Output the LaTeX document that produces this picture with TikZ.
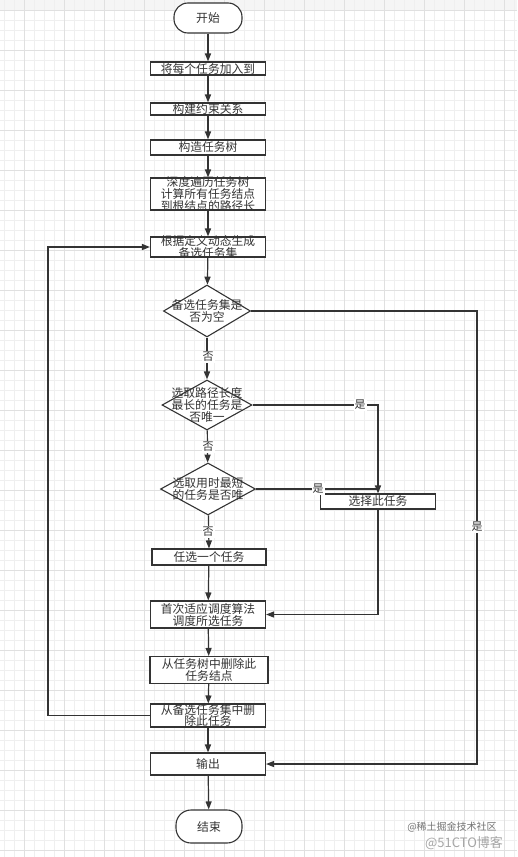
\documentclass[tikz,border=0pt]{standalone}
\usepackage{fontspec}
\newfontfamily\cjk{Noto Sans CJK SC}
\usetikzlibrary{arrows.meta,shapes.geometric}
\definecolor{ink}{HTML}{333333}
\definecolor{gridminor}{HTML}{EFEFEF}
\definecolor{gridmajor}{HTML}{E0E0E0}
\tikzset{
  boxshape/.style={draw=ink,line width=1.1pt,fill=white,inner sep=0pt,rectangle},
  termshape/.style={draw=ink,line width=1.1pt,fill=white,inner sep=0pt,rectangle,rounded corners=14pt},
  decshape/.style={draw=ink,line width=1.1pt,fill=white,inner sep=0pt,diamond},
  txt/.style={inner sep=0pt,align=center,text=ink,font=\cjk\fontsize{11.8}{10.8}\selectfont},
  yn/.style={inner sep=1pt,fill=white,text=ink,font=\cjk\fontsize{11}{11}\selectfont},
  conn/.style={draw=ink,line width=1.2pt},
  arr/.style={conn,-{Triangle[length=8pt,width=6pt]}},
}
\begin{document}
\begin{tikzpicture}[x=1pt,y=-1pt]
\useasboundingbox (0,0) rectangle (517,857);
\fill[white] (0,0) rectangle (517,857);
\fill[gridminor!60] (0,0) rectangle (517,10);
\foreach \x in {4,14,...,514} \draw[gridminor,line width=0.6pt] (\x,0) -- (\x,857);
\foreach \y in {10.7,20.7,...,857} \draw[gridminor,line width=0.6pt] (0,\y) -- (517,\y);
\foreach \x in {24,64,...,514} \draw[gridmajor,line width=0.7pt] (\x,0) -- (\x,857);
\foreach \y in {10.7,50.7,...,857} \draw[gridmajor,line width=0.7pt] (0,\y) -- (517,\y);

% shapes
\node[termshape,minimum width=68pt,minimum height=30pt] (start) at (208,18) {};
\node[boxshape,minimum width=115pt,minimum height=13pt] (b1) at (208,68.5) {};
\node[boxshape,minimum width=115pt,minimum height=12pt] (b2) at (208,109) {};
\node[boxshape,minimum width=115pt,minimum height=15pt] (b3) at (208,147.5) {};
\node[boxshape,minimum width=115pt,minimum height=32pt] (b4) at (208,194) {};
\node[boxshape,minimum width=115pt,minimum height=20pt] (b5) at (208,247) {};
\node[decshape,minimum width=87pt,minimum height=52pt] (d1) at (207,311) {};
\node[decshape,minimum width=90pt,minimum height=50pt] (d2) at (207,405) {};
\node[decshape,minimum width=95pt,minimum height=52pt] (d3) at (208,489) {};
\node[boxshape,minimum width=115pt,minimum height=15pt] (sel) at (378,501.5) {};
\node[boxshape,minimum width=114pt,minimum height=16pt] (b6) at (209,557) {};
\node[boxshape,minimum width=115pt,minimum height=27pt] (b7) at (208,614.5) {};
\node[boxshape,minimum width=118pt,minimum height=27pt] (b8) at (209,670) {};
\node[boxshape,minimum width=115pt,minimum height=23pt] (b9) at (208,715.5) {};
\node[boxshape,minimum width=115pt,minimum height=22pt] (out) at (208,764) {};
\node[termshape,minimum width=66pt,minimum height=33pt,rounded corners=15pt] (end) at (209,826.5) {};

% texts
\node[txt] (tstart) at (start) {开始};
\node[txt] (t1) at (b1) {将每个任务加入到};
\node[txt] (t2) at (b2) {构建约束关系};
\node[txt] (t3) at (b3) {构造任务树};
\node[txt] (t4) at (b4) {深度遍历任务树\\计算所有任务结点\\到根结点的路径长};
\node[txt] (t5) at (b5) {根据定义动态生成\\备选任务集};
\node[txt] (td1) at (d1) {备选任务集是\\否为空};
\node[txt] (td2) at (d2) {选取路径长度\\最长的任务是\\否唯一};
\node[txt] (td3) at (d3) {选取用时最短\\的任务是否唯};
\node[txt] (tsel) at (sel) {选择此任务};
\node[txt] (t6) at (b6) {任选一个任务};
\node[txt] (t7) at (b7) {首次适应调度算法\\调度所选任务};
\node[txt] (t8) at (b8) {从任务树中删除此\\任务结点};
\node[txt] (t9) at (b9) {从备选任务集中删\\除此任务};
\node[txt] (tout) at (out) {输出};
\node[txt] (tend) at (end) {结束};

% connectors
\draw[arr] (start) -- (b1);
\draw[arr] (b1) -- (b2);
\draw[arr] (b2) -- (b3);
\draw[arr] (b3) -- (b4);
\draw[arr] (b4) -- (b5);
\draw[arr] (b5) -- (d1);
\draw[arr] (d1) -- (d2);
\draw[arr] (d2) -- (d3);
\draw[arr] (d3) -- (b6 |- b6.north);
\draw[arr] (b6) -- (b7);
\draw[arr] (b7) -- (b8);
\draw[arr] (b8) -- (b9);
\draw[arr] (b9) -- (out);
\draw[arr] (out) -- (end);

\coordinate (rx) at (477,0);
\coordinate (lx) at (48,0);
\draw[arr] (d1.east) -- (d1.east -| rx) |- (out.east);
\draw[arr] (d2.east) -| (sel.north);
\draw[conn] (d3.east) -- (d3.east -| sel.north);
\draw[arr] (sel.south) |- (b7.east);
\draw[arr] (b9.west) -- (b9.west -| lx) |- (b5.west);

% yes/no labels
\node[yn] (n1) at (208,357) {否};
\node[yn] (n2) at (208,447) {否};
\node[yn] (n3) at (208,532) {否};
\node[yn] (y1) at (360,405) {是};
\node[yn] (y2) at (318,489) {是};
\node[yn] (y3) at (477,527) {是};

% watermarks
\node[inner sep=0pt,text=black!55,font=\cjk\fontsize{10}{10}\selectfont] (wm1) at (452,827) {@稀土掘金技术社区};
\node[inner sep=0pt,text=black!35,font=\cjk\fontsize{13}{13}\selectfont] (wm2) at (464,843) {@51CTO博客};
\end{tikzpicture}
\end{document}
